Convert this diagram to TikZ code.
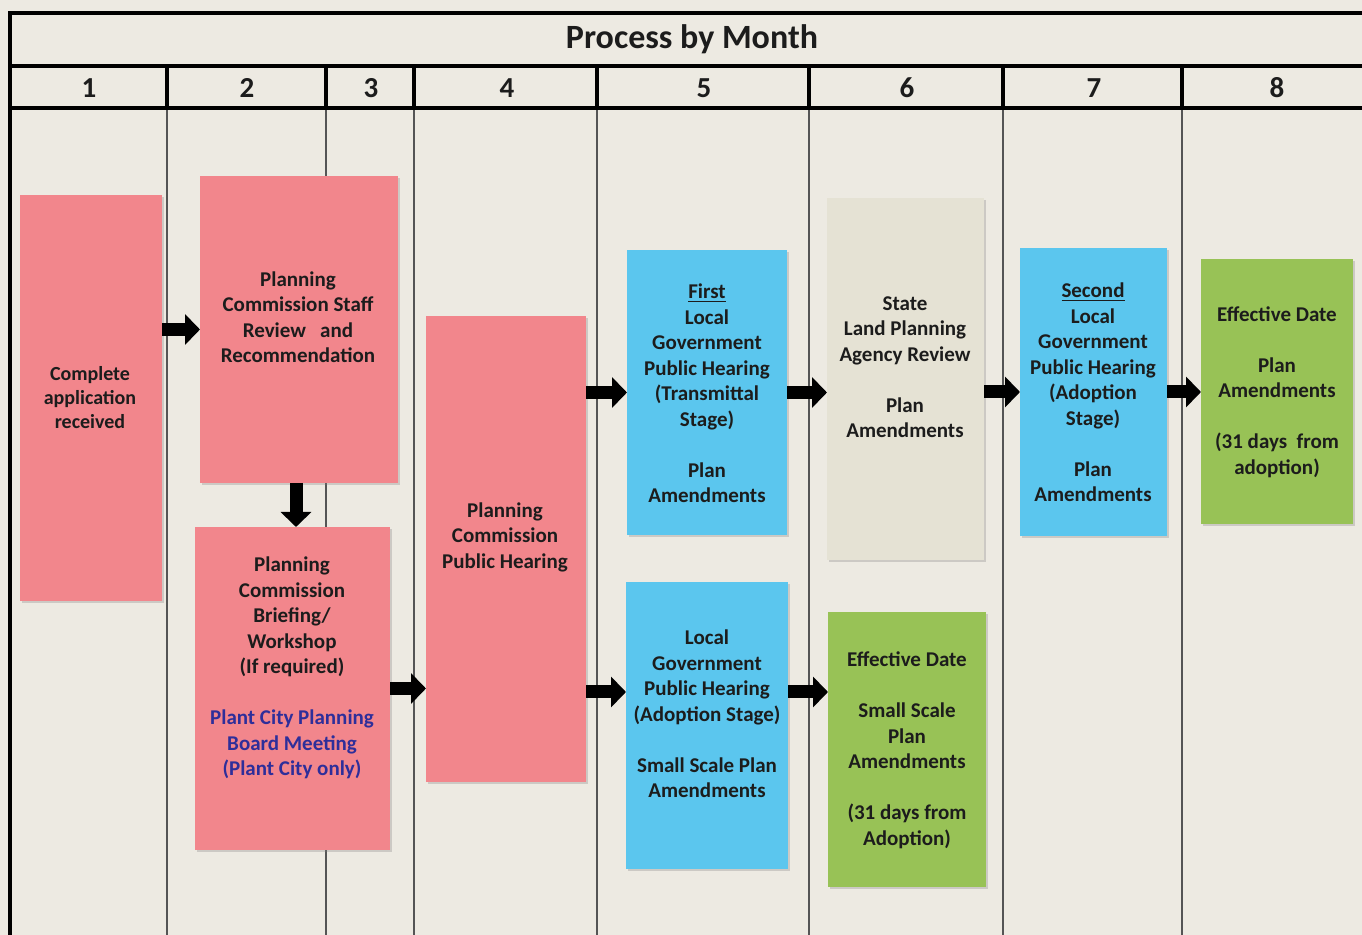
\documentclass[tikz,border=0pt]{standalone}
\usepackage{fontspec}
\setmainfont{Carlito}
\usetikzlibrary{arrows.meta,shadows}
\definecolor{bg}{HTML}{EDEAE2}
\definecolor{pinkc}{HTML}{F2868C}
\definecolor{bluec}{HTML}{5BC6EE}
\definecolor{greenc}{HTML}{98C256}
\definecolor{grayc}{HTML}{E5E2D4}
\definecolor{txtc}{HTML}{1C1C1C}
\definecolor{plantc}{HTML}{2E2E9A}
\definecolor{thinline}{HTML}{555555}
\begin{document}
\begin{tikzpicture}[x=0.5pt,y=-0.5pt,
  box/.style={rectangle, inner sep=0pt, outer sep=0pt,
    drop shadow={opacity=0.3, shadow xshift=1.2pt, shadow yshift=-1.2pt}},
  pinkbox/.style={box, fill=pinkc},
  bluebox/.style={box, fill=bluec},
  greenbox/.style={box, fill=greenc},
  graybox/.style={box, fill=grayc},
  txt/.style={align=center, inner sep=0pt, text=txtc,
    font=\bfseries\fontsize{10.5}{12.75}\selectfont},
  smalltxt/.style={txt, font=\bfseries\fontsize{10}{12}\selectfont},
  head/.style={inner sep=0pt, text=txtc, font=\bfseries\fontsize{14.5}{16}\selectfont},
  titlefont/.style={inner sep=0pt, text=txtc, font=\bfseries\fontsize{17}{20}\selectfont},
  thickrule/.style={line width=2pt, black},
  thinrule/.style={line width=0.6pt, thinline},
  blk/.style={line width=6.5pt, black, -{Triangle[width=15pt,length=7.5pt]}}
]
\useasboundingbox (0,0) rectangle (1362,935);
\fill[bg] (0,0) rectangle (1362,935);

% table grid
\foreach \x in {167,326,414,597,809,1003,1182}{
  \draw[thinrule] (\x,108) -- (\x,935);
  \draw[thickrule] (\x,66) -- (\x,108);
}
\draw[thickrule] (1362,13) -- (10,13) -- (10,935);
\draw[thickrule] (10,66) -- (1362,66);
\draw[thickrule] (10,108) -- (1362,108);

\node[titlefont] (title) at (692,39) {Process by Month};
\node[head] (m1) at (89,88) {1};
\node[head] (m2) at (247,88) {2};
\node[head] (m3) at (371,88) {3};
\node[head] (m4) at (507,88) {4};
\node[head] (m5) at (704,88) {5};
\node[head] (m6) at (907,88) {6};
\node[head] (m7) at (1094,88) {7};
\node[head] (m8) at (1277,88) {8};

% boxes
\node[pinkbox, minimum width=71pt, minimum height=203pt] (b1) at (91,398) {};
\node[pinkbox, minimum width=99pt, minimum height=153.5pt] (b2) at (299,329.5) {};
\node[pinkbox, minimum width=97.5pt, minimum height=161.5pt] (b3) at (292.5,688.5) {};
\node[pinkbox, minimum width=80pt, minimum height=233pt] (b4) at (506,549) {};
\node[bluebox, minimum width=80pt, minimum height=142.5pt] (b5) at (707,392.5) {};
\node[graybox, minimum width=78.5pt, minimum height=181pt] (b6) at (905.5,379) {};
\node[bluebox, minimum width=73.5pt, minimum height=144pt] (b7) at (1093.5,392) {};
\node[greenbox, minimum width=76pt, minimum height=132.5pt] (b8) at (1277,391.5) {};
\node[bluebox, minimum width=81pt, minimum height=143.5pt] (b9) at (707,725.5) {};
\node[greenbox, minimum width=79pt, minimum height=137.5pt] (b10) at (907,749.5) {};

% texts
\node[smalltxt] (t1) at (90,398) {Complete\\application\\received};
\node[txt] (t2) at (298,317) {Planning\\Commission Staff\\Review\ \ \ and\\Recommendation};
\node[txt] (t3) at (292,668) {Planning\\Commission\\Briefing/\\Workshop\\(If required)\\[12.75pt]
  \textcolor{plantc}{Plant City Planning}\\\textcolor{plantc}{Board Meeting}\\\textcolor{plantc}{(Plant City only)}};
\node[txt] (t4) at (505,537) {Planning\\Commission\\Public Hearing};
\node[txt] (t5) at (707,393.5) {\underline{First}\\Local\\Government\\Public Hearing\\(Transmittal\\Stage)\\[12.75pt]Plan\\Amendments};
\node[txt] (t6) at (905,367) {State\\Land Planning\\Agency Review\\[12.75pt]Plan\\Amendments};
\node[txt] (t7) at (1093,392.5) {\underline{Second}\\Local\\Government\\Public Hearing\\(Adoption\\Stage)\\[12.75pt]Plan\\Amendments};
\node[txt] (t8) at (1277,392) {Effective Date\\[12.75pt]Plan\\Amendments\\[12.75pt](31 days\ \ from\\adoption)};
\node[txt] (t9) at (707,714) {Local\\Government\\Public Hearing\\(Adoption Stage)\\[12.75pt]Small Scale Plan\\Amendments};
\node[txt] (t10) at (907,750.5) {Effective Date\\[12.75pt]Small Scale\\Plan\\Amendments\\[12.75pt](31 days from\\Adoption)};

% arrows
\coordinate (a49) at (0,692);
\draw[blk] (b1.east |- b2.west) -- (b2.west);
\draw[blk] ([xshift=-1.5pt]b2.south) -- ([xshift=-1.5pt]b2.south |- b3.north);
\draw[blk] (b3.east) -- (b3.east -| b4.west);
\draw[blk] (b4.east |- b5.west) -- (b5.west);
\draw[blk] (b4.east |- a49) -- (b9.west |- a49);
\draw[blk] (b5.east) -- (b5.east -| b6.west);
\draw[blk] (b9.east |- a49) -- (b10.west |- a49);
\draw[blk] (b6.east |- b7.west) -- (b7.west);
\draw[blk] (b7.east) -- (b7.east -| b8.west);
\end{tikzpicture}
\end{document}
